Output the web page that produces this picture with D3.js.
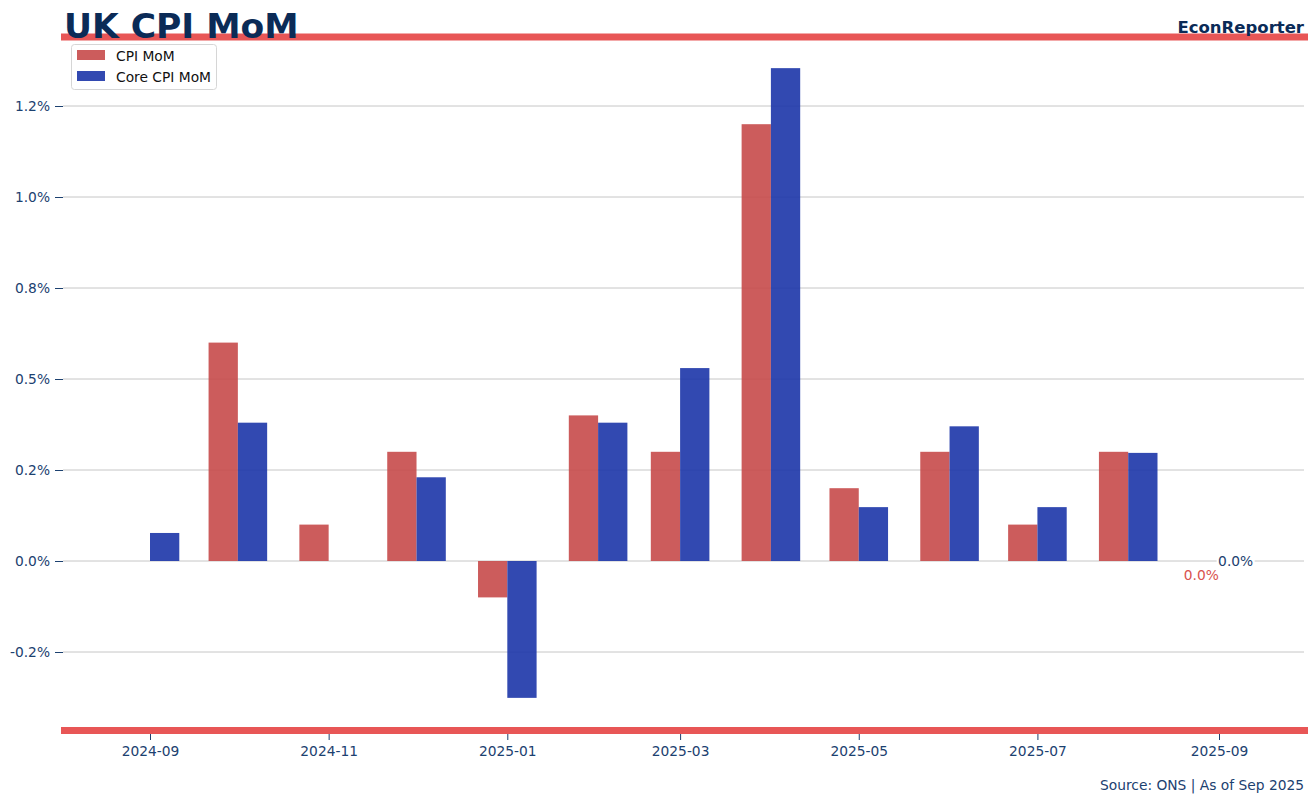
<!DOCTYPE html>
<html><head><meta charset="utf-8">
<script src="https://cdn.jsdelivr.net/npm/d3@7"></script>
<style>body{margin:0;background:#fff}svg{display:block;font-family:"DejaVu Sans",sans-serif}</style>
</head><body><svg id="c" width="1314" height="802"></svg>
<script>
const months = ["2024-09","2024-10","2024-11","2024-12","2025-01","2025-02","2025-03","2025-04","2025-05","2025-06","2025-07","2025-08","2025-09"];
const cpiMoM = [0.0, 0.6, 0.1, 0.3, -0.1, 0.4, 0.3, 1.2, 0.2, 0.3, 0.1, 0.3, 0.0];
const coreMoM = [0.077, 0.38, 0.0, 0.23, -0.376, 0.38, 0.53, 1.354, 0.148, 0.37, 0.148, 0.297, 0.0];
const yTickValues = [-0.25, 0, 0.25, 0.5, 0.75, 1.0, 1.25];
const yTickLabels = ["-0.2%","0.0%","0.2%","0.5%","0.8%","1.0%","1.2%"];
const xTickLabels = ["2024-09","2024-11","2025-01","2025-03","2025-05","2025-07","2025-09"];

const navy = "#0b2b57", tickCol = "#1c4170", redLine = "#e85656";
const cpiCol = "#c74a4a", coreCol = "#1c35a9";
const barOpacity = 0.9;
const fs = "13.8px";
const svg = d3.select("#c");
const parse = d3.utcParse("%Y-%m");
const dates = months.map(parse);

const L = 61, R = 1308;
const x0 = d3.scaleUtc().domain([parse("2024-09"), parse("2025-09")]).range([150, 1219]);
const x = d3.scaleUtc().domain([x0.invert(L), x0.invert(R)]).range([L, R]);
const y = d3.scaleLinear().domain([0, 1.25]).range([561, 106]);
const barDays = 10 * 864e5;

// grid
svg.append("g").selectAll("line").data(yTickValues).join("line")
  .attr("x1", 63).attr("x2", 1304).attr("y1", d => y(d)).attr("y2", d => y(d))
  .attr("stroke", "#c6c6c6").attr("stroke-width", 1);

// y axis
const yAxis = d3.axisLeft(y).tickValues(yTickValues).tickFormat((d, i) => yTickLabels[i]).tickSize(8).tickPadding(5);
const gy = svg.append("g").attr("transform", `translate(63,0)`).call(yAxis);
gy.select(".domain").remove();
gy.selectAll(".tick line").attr("stroke", tickCol);
gy.selectAll(".tick text").attr("fill", tickCol).style("font-size", fs).style("font-family", "DejaVu Sans");

// bars
const bars = svg.append("g");
bars.selectAll("rect.cpi").data(dates).join("rect").attr("class", "cpi")
  .attr("x", d => x(new Date(+d - barDays)))
  .attr("width", d => x(d) - x(new Date(+d - barDays)))
  .attr("y", (d, i) => y(Math.max(0, cpiMoM[i])))
  .attr("height", (d, i) => Math.abs(y(cpiMoM[i]) - y(0)))
  .attr("fill", cpiCol).attr("fill-opacity", barOpacity);
bars.selectAll("rect.core").data(dates).join("rect").attr("class", "core")
  .attr("x", d => x(d))
  .attr("width", d => x(new Date(+d + barDays)) - x(d))
  .attr("y", (d, i) => y(Math.max(0, coreMoM[i])))
  .attr("height", (d, i) => Math.abs(y(coreMoM[i]) - y(0)))
  .attr("fill", coreCol).attr("fill-opacity", barOpacity);

// last value labels
const last = dates.length - 1;
const dl = dates[last];
const coreLblX = (x(dl) + x(new Date(+dl + barDays))) / 2 + 2;
const cpiLblX = (x(new Date(+dl - barDays)) + x(dl)) / 2 - 3;
const coreLbl = svg.append("g");
coreLbl.append("rect").attr("x", coreLblX - 19).attr("y", y(coreMoM[last]) - 8).attr("width", 38).attr("height", 16).attr("fill", "#fff");
coreLbl.append("text").attr("x", coreLblX).attr("y", y(coreMoM[last]) + 5).attr("text-anchor", "middle")
  .attr("fill", tickCol).style("font-size", fs).text(coreMoM[last].toFixed(1) + "%");
svg.append("text").attr("x", cpiLblX).attr("y", y(cpiMoM[last]) + 19).attr("text-anchor", "middle")
  .attr("fill", "#d9534f").style("font-size", fs).text(cpiMoM[last].toFixed(1) + "%");

// x axis
const xTicks = xTickLabels.map(parse);
const xAxis = d3.axisBottom(x).tickValues(xTicks).tickFormat(d3.utcFormat("%Y-%m")).tickSize(6).tickPadding(6);
const gx = svg.append("g").attr("transform", `translate(0,734)`).call(xAxis);
gx.select(".domain").remove();
gx.selectAll(".tick line").attr("stroke", tickCol);
gx.selectAll(".tick text").attr("fill", tickCol).style("font-size", fs).style("font-family", "DejaVu Sans");

// red spines
svg.append("rect").attr("x", L).attr("y", 33.5).attr("width", R - L).attr("height", 7).attr("fill", redLine);
svg.append("rect").attr("x", L).attr("y", 727).attr("width", R - L).attr("height", 7).attr("fill", redLine);

// title
svg.append("text").attr("x", 64).attr("y", 37.5).attr("fill", navy).style("font-size", "34.5px").style("font-weight", "bold").text("UK CPI MoM");
svg.append("text").attr("x", 1304).attr("y", 33).attr("text-anchor", "end").attr("fill", navy).style("font-size", "16.5px").style("font-weight", "bold").text("EconReporter");
svg.append("text").attr("x", 1304).attr("y", 790).attr("text-anchor", "end").attr("fill", tickCol).style("font-size", fs).text("Source: ONS | As of Sep 2025");

// legend
const lg = svg.append("g");
lg.append("rect").attr("x", 71.5).attr("y", 44.5).attr("width", 145).attr("height", 45).attr("rx", 3)
  .attr("fill", "#fff").attr("fill-opacity", 0.85).attr("stroke", "#d6d6d6");
const legItems = [["CPI MoM", cpiCol], ["Core CPI MoM", coreCol]];
legItems.forEach(([name, col], i) => {
  lg.append("rect").attr("x", 77).attr("y", 50 + i * 21).attr("width", 28).attr("height", 10).attr("fill", col).attr("fill-opacity", barOpacity);
  lg.append("text").attr("x", 116).attr("y", 60.5 + i * 21).attr("fill", "#111").style("font-size", fs).text(name);
});
</script></body></html>
